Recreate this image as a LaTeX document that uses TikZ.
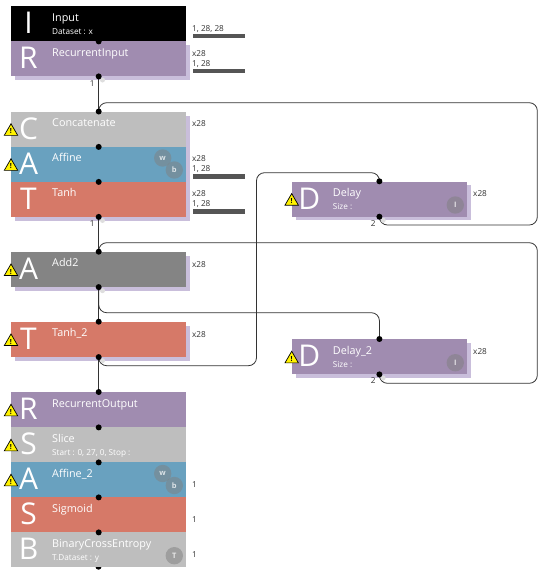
\documentclass[tikz,border=0pt]{standalone}
\usepackage{fontspec}
\setmainfont{Open Sans}
\usepackage{xcolor}
\usetikzlibrary{shapes.geometric}
\definecolor{recur}{HTML}{A08CB0}
\definecolor{pale}{HTML}{BEBEBE}
\definecolor{affn}{HTML}{69A1BF}
\definecolor{actv}{HTML}{D67968}
\definecolor{adds}{HTML}{848484}
\definecolor{shd}{HTML}{C9BEDB}
\definecolor{wire}{HTML}{333333}
\definecolor{barc}{HTML}{555555}
\tikzset{
  blk/.style={minimum width=175pt, minimum height=35pt, inner sep=0pt,
              anchor=north west},
  bigl/.style={font=\fontsize{30}{30}\selectfont, text=white, inner sep=0pt, anchor=base},
  ttl/.style={font=\fontsize{10.8}{12}\selectfont, text=white, inner sep=0pt, anchor=base west},
  subt/.style={font=\fontsize{8.2}{10}\selectfont, text=white, inner sep=0pt, anchor=base west},
  info/.style={font=\fontsize{8.2}{10}\selectfont, text=black!80, inner sep=0pt, anchor=base west},
  cnt/.style={font=\fontsize{8.2}{10}\selectfont, text=black!80, inner sep=0pt},
  bar/.style={fill=barc},
  ln/.style={draw=wire, line width=0.8pt, rounded corners=8pt},
  pin/.style={circle, fill=black, inner sep=0pt, minimum size=6pt},
  ghost/.style={circle, fill=black!13, inner sep=0pt, minimum size=5pt},
  warn/.style={regular polygon, regular polygon sides=3, draw=black, fill=yellow,
               line width=0.7pt, inner sep=0pt, minimum size=15.5pt,
               font=\fontsize{7}{7}\selectfont\bfseries},
  prm/.style={circle, fill=gray, fill opacity=.5, text opacity=.75, text=white,
              inner sep=0pt, minimum size=17.4pt, font=\fontsize{7.5}{8}\selectfont\bfseries},
}
\begin{document}
\begin{tikzpicture}[x=1pt, y=-1pt]
  \useasboundingbox (0,0) rectangle (550,576);

  % shadows
  \foreach \x/\a/\b in {11/41/76, 11/111.5/216.5, 11/251.7/286.7, 11/321.7/356.7,
                        291.7/181.3/216.3, 291.7/339/374}
    \fill[shd] (\x+4,\a+4) rectangle (\x+179,\b+4);

  % the last output sits under its block
  \node[pin] (endpin) at (98.5,566.7) {};

  % blocks
  \foreach \n/\x/\y/\c/\l/\t/\s in {
      inp/11/6/black/I/Input/Dataset : x,
      rin/11/41/recur/R/RecurrentInput/,
      conc/11/111.5/pale/C/Concatenate/,
      aff/11/146.5/affn/A/Affine/,
      tanh/11/181.5/actv/T/Tanh/,
      addb/11/251.7/adds/A/Add2/,
      tanhb/11/321.7/actv/T/Tanh\_2/,
      rout/11/392/recur/R/RecurrentOutput/,
      slc/11/427/pale/S/Slice/{Start : 0, 27, 0, Stop :},
      affb/11/462/affn/A/Affine\_2/,
      sgm/11/497/actv/S/Sigmoid/,
      bce/11/532/pale/B/BinaryCrossEntropy/T.Dataset : y,
      dly/291.7/181.3/recur/D/Delay/Size :,
      dlyb/291.7/339/recur/D/Delay\_2/Size :}
  {
    \node[blk, fill=\c] (\n) at (\x,\y) {};
    \node[bigl] (\n-l) at (\x+17.5,\y+27.7) {\l};
    \node[ttl] (\n-t) at (\x+41,\y+15) {\t};
    \node[subt] (\n-s) at (\x+41,\y+28.2) {\s};
  }

  % warnings
  \foreach \n/\x/\y in {conc/11/111.5, aff/11/146.5, addb/11/251.7, tanhb/11/321.7,
                        rout/11/392, slc/11/427, affb/11/462,
                        dly/291.7/181.3, dlyb/291.7/339}
    \node[warn] (\n-w) at (\x,\y+20) {!};

  % parameter badges
  \foreach \n/\x/\y/\t in {w1/162.7/158/w, b1/174.3/170/b, w2/162.7/473.5/w, b2/174.3/485.5/b,
                           t1/174.3/555.7/T, i1/455.3/205/I, i2/455.3/362.7/I}
    \node[prm] (\n) at (\x,\y) {\t};

  % sizes at the right
  \foreach \n/\y/\t in {a/31.7/{1, 28, 28}, b/56.7/x28, c/66.7/{1, 28}, d/126.7/x28, e/161.7/x28,
                        f/171.7/{1, 28}, g/196.7/x28, h/206.7/{1, 28}, i/267.3/x28, j/337.3/x28,
                        k/487.7/1, l/522.7/1, m/557.7/1}
    \node[info] (size-\n) at (192,\y) {\t};
  \node[info] (size-n) at (473,196.7) {x28};
  \node[info] (size-o) at (473,354.3) {x28};
  \foreach \y in {33.8, 69, 174.2, 209.4}
    \fill[bar] (192.5,\y) rectangle (245,\y+4.4);

  % straight links
  \draw[ln] (rin.south) -- (conc.north);
  \draw[ln] (tanh.south) -- (addb.north);
  \draw[ln] (addb.south) -- (tanhb.north);
  \draw[ln] (tanhb.south) -- (rout.north);

  % delay loops
  \coordinate (loopa) at (537.3,102.7);
  \coordinate (loopb) at (537.3,225);
  \coordinate (loopc) at (537.3,242.7);
  \coordinate (loopd) at (537.3,383.3);
  \coordinate (backa) at (256.5,365.7);
  \coordinate (backb) at (256.5,172.7);
  \coordinate (fwd) at (300,312.7);
  \draw[ln] (conc.north) |- (loopa) -- (loopb) -| (dly.south);
  \draw[ln] (addb.north) |- (loopc) -- (loopd) -| (dlyb.south);
  \draw[ln] (addb.south) |- (fwd) -| (dlyb.north);
  \draw[ln] (tanhb.south) |- (backa) -- (backb) -| (dly.north);

  % ports
  \foreach \n in {rin, tanh, addb, tanhb, dly, dlyb}
    \node[ghost] (\n-g) at ([shift={(3.8,3.6)}]\n.south) {};
  \foreach \n [count=\i] in {inp.south, rin.south, conc.north, conc.south, aff.south, tanh.south,
                 addb.north, addb.south, tanhb.north, tanhb.south, rout.north,
                 rout.south, slc.south, affb.south, sgm.south,
                 dly.north, dly.south, dlyb.north, dlyb.south}
    \node[pin] (port-\i) at (\n) {};

  % counts
  \node[cnt] (cnt-a) at (92.3,83.3) {1};
  \node[cnt] (cnt-b) at (92.3,224) {1};
  \node[cnt] (cnt-c) at (373.3,223.7) {2};
  \node[cnt] (cnt-d) at (373.3,381) {2};
\end{tikzpicture}
\end{document}
